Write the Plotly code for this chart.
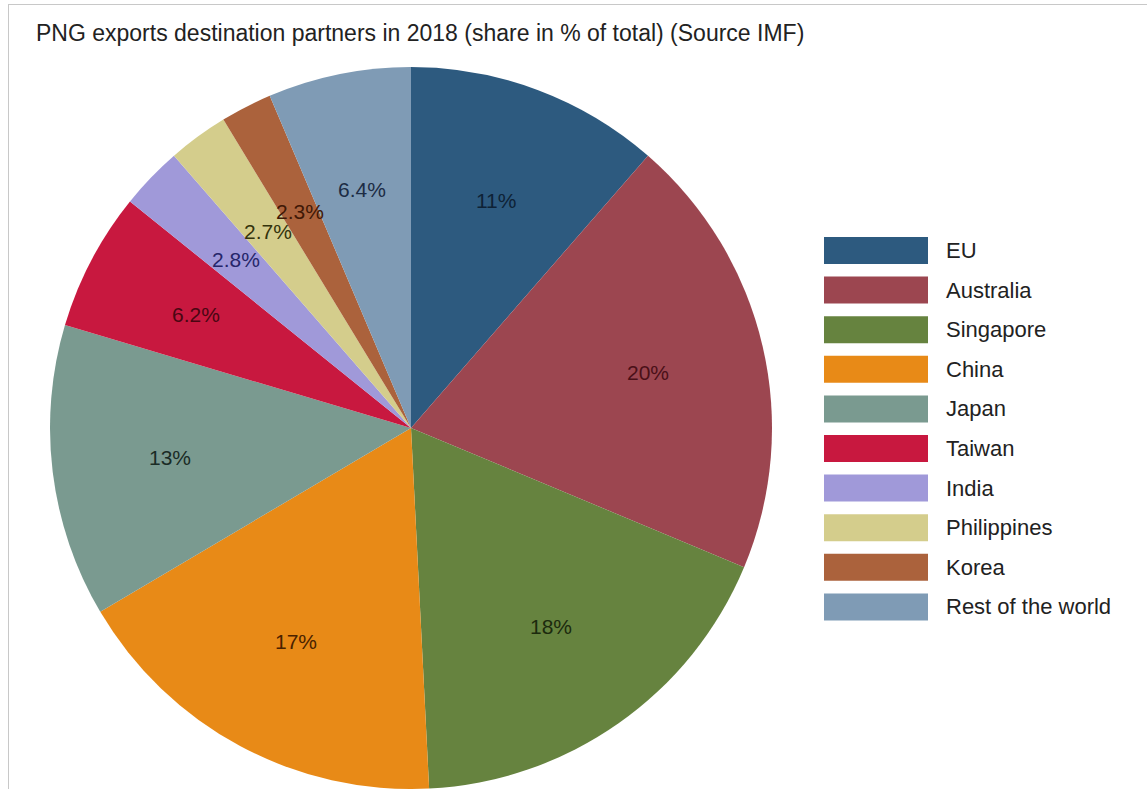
import math
import plotly.graph_objects as go

# ---- data ----
partners = ["EU", "Australia", "Singapore", "China", "Japan", "Taiwan",
            "India", "Philippines", "Korea", "Rest of the world"]
shares = [11.4, 19.9, 17.9, 17.3, 13.1, 6.2, 2.8, 2.7, 2.3, 6.4]
slice_colors = ["#2D5A7F", "#9C4650", "#66833F", "#E88A17", "#7A9A90",
                "#C8183F", "#A099D9", "#D4CD8C", "#AB623C", "#7F9BB5"]
text_colors = ["#0E2236", "#4A1018", "#1C2A0E", "#4A2200", "#1A2C26",
               "#4A0612", "#26266A", "#34340C", "#401806", "#1C2C44"]
title_text = "PNG exports destination partners in 2018 (share in % of total) (Source IMF)"

W, H = 1147, 789
cx, cy, R = 411.0, 428.0, 361.0  # pixel geometry of pie
FONT = "Liberation Sans, Arial"

fig = go.Figure()
fig.add_trace(go.Pie(
    labels=partners, values=shares, sort=False, direction="clockwise",
    rotation=0, marker=dict(colors=slice_colors, line=dict(width=0)),
    textinfo="none", hoverinfo="label+percent", showlegend=False,
    domain=dict(x=[(cx - R) / W, (cx + R) / W], y=[(H - cy - R) / H, (H - cy + R) / H]),
))

annotations = []
# slice labels at 2/3 radius along the mid-angle
total = sum(shares)
cum = 0.0
for v, tc in zip(shares, text_colors):
    frac = v / total
    mid = (cum + frac / 2) * 2 * math.pi
    cum += frac
    px = cx + 0.673 * R * math.sin(mid)
    py = cy - 0.673 * R * math.cos(mid)
    pct = frac * 100
    txt = f"{pct:.0f}%" if pct >= 10 else f"{pct:.1f}%"
    annotations.append(dict(x=px / W, y=1 - py / H, xref="paper", yref="paper",
                            xanchor="center", yanchor="middle",
                            text=txt, showarrow=False,
                            font=dict(family=FONT, size=21, color=tc)))

# title
annotations.append(dict(x=34 / W, y=1 - 33 / H, xref="paper", yref="paper",
                        xanchor="left", yanchor="middle", text=title_text, showarrow=False,
                        font=dict(family=FONT, size=23, color="#222222")))

# custom legend with wide swatches
shapes = []
sx0, sx1 = 824, 928
sy0, pitch, sh = 237, 39.6, 27
for i, (lab, col) in enumerate(zip(partners, slice_colors)):
    y0 = sy0 + i * pitch
    shapes.append(dict(type="rect", xref="paper", yref="paper",
                       x0=sx0 / W, x1=sx1 / W, y0=1 - (y0 + sh) / H, y1=1 - y0 / H,
                       fillcolor=col, line=dict(width=0)))
    annotations.append(dict(x=944 / W, y=1 - (y0 + sh / 2) / H, xref="paper", yref="paper",
                            xanchor="left", yanchor="middle", text=lab, showarrow=False,
                            font=dict(family=FONT, size=22, color="#222222")))

# outer frame lines (top and left)
shapes.append(dict(type="line", xref="paper", yref="paper", x0=8 / W, x1=1.0,
                   y0=1 - 4.5 / H, y1=1 - 4.5 / H, line=dict(color="#C8C8C8", width=1)))
shapes.append(dict(type="line", xref="paper", yref="paper", x0=8.5 / W, x1=8.5 / W,
                   y0=0, y1=1 - 4.5 / H, line=dict(color="#C8C8C8", width=1)))

fig.update_layout(width=W, height=H, margin=dict(l=0, r=0, t=0, b=0),
                  paper_bgcolor="white", plot_bgcolor="white",
                  annotations=annotations, shapes=shapes)
fig.write_html("out.html")
